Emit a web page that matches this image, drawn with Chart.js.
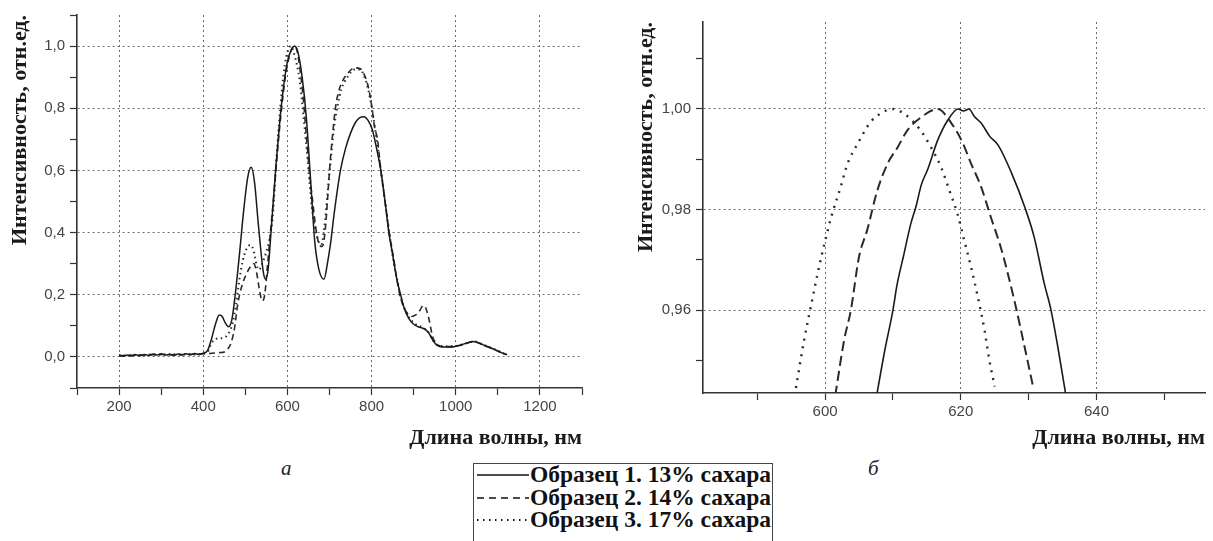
<!DOCTYPE html>
<html>
<head>
<meta charset="utf-8">
<script src="https://cdn.jsdelivr.net/npm/chart.js@4/dist/chart.umd.min.js"></script>
<style>
body{margin:0;background:#fff;width:1213px;height:541px;overflow:hidden;position:relative;font-family:'Liberation Serif',serif}
canvas{position:absolute;top:0}
#chartA{left:0}
#chartB{left:630px}
.sub{position:absolute;font-style:italic;font-size:21px;line-height:21px;color:#222}
#legend{position:absolute;left:473px;top:463px;width:298px;height:80px;border:1px solid #444;font-weight:bold;font-size:23.5px;line-height:22.7px;color:#111}
#legend .row{position:relative;height:22.7px;white-space:nowrap}
#legend .row:first-child{margin-top:-1px}
#legend svg{position:absolute;left:2px;top:0}
#legend span{margin-left:56px}
</style>
</head>
<body>
<canvas id="chartA" width="600" height="452"></canvas>
<canvas id="chartB" width="583" height="452"></canvas>
<div class="sub" style="left:281px;top:458px">а</div>
<div class="sub" style="left:868px;top:458px">б</div>
<div id="legend"></div>
<script>
// подписи
var seriesNames = ['Образец 1. 13% сахара', 'Образец 2. 14% сахара', 'Образец 3. 17% сахара'];
var xTitle = 'Длина волны, нм';
var yTitle = 'Интенсивность, отн.ед.';

// рисунок а: полный спектр
var wlA1 = [200,210,220,230,240,250,260,270,280,290,300,310,320,330,340,350,360,370,380,390,400,410,420,430,438,445,452,460,468,476,486,496,506,514,522,530,537,543,548,554,562,573,582,590,600,610,617,625,635,645,656,665,675,687,695,703,710,718,726,738,750,762,772,782,792,802,812,822,832,841,850,860,869,878,888,900,915,928,937,945,955,970,990,1010,1025,1040,1055,1070,1085,1100,1112,1122];
var intA1 = [0.005,0.002,0.006,0.003,0.007,0.004,0.008,0.005,0.009,0.006,0.010,0.006,0.008,0.005,0.009,0.006,0.010,0.007,0.011,0.008,0.012,0.020,0.060,0.110,0.135,0.130,0.110,0.097,0.120,0.200,0.330,0.470,0.580,0.610,0.560,0.440,0.340,0.270,0.250,0.280,0.420,0.620,0.760,0.860,0.950,0.990,1.000,0.980,0.900,0.770,0.550,0.370,0.280,0.250,0.300,0.370,0.450,0.530,0.600,0.670,0.720,0.755,0.770,0.773,0.760,0.730,0.670,0.600,0.500,0.400,0.330,0.250,0.200,0.155,0.125,0.105,0.095,0.088,0.075,0.055,0.038,0.032,0.032,0.038,0.044,0.050,0.045,0.036,0.028,0.019,0.012,0.007];

var wlA2 = [200,220,240,260,280,300,320,340,360,380,400,410,420,430,440,450,458,466,474,482,492,502,512,520,527,533,540,546,553,561,569,577,585,595,605,612,618,625,637,645,652,660,668,676,683,690,695,700,707,714,722,730,745,760,772,782,792,800,807,814,822,832,842,852,860,867,875,885,895,905,915,922,928,937,945,955,970,990,1010,1025,1040,1055,1070,1085,1100,1112,1120];
var intA2 = [0.004,0.005,0.006,0.006,0.007,0.008,0.007,0.008,0.008,0.009,0.010,0.010,0.012,0.013,0.014,0.016,0.025,0.045,0.090,0.170,0.230,0.265,0.290,0.300,0.270,0.220,0.180,0.200,0.300,0.420,0.540,0.670,0.785,0.900,0.970,0.995,1.000,0.970,0.840,0.710,0.600,0.500,0.410,0.360,0.355,0.410,0.500,0.600,0.710,0.800,0.855,0.885,0.915,0.930,0.928,0.910,0.870,0.810,0.740,0.700,0.600,0.500,0.400,0.320,0.250,0.200,0.165,0.140,0.130,0.135,0.150,0.165,0.160,0.118,0.065,0.042,0.033,0.033,0.037,0.043,0.049,0.045,0.036,0.028,0.019,0.012,0.008];

var wlA3 = [200,220,240,260,280,300,320,340,360,380,400,410,420,430,440,450,460,470,478,486,494,502,512,520,526,532,540,548,556,565,573,580,587,594,600,608,617,629,637,645,652,660,670,680,688,695,702,710,718,728,745,760,772,782,792,802,812,822,832,842,852,862,872,882,893,905,920,935,945,955,970,990,1010,1030,1045,1060,1075,1090,1105,1118];
var intA3 = [0.006,0.004,0.007,0.005,0.008,0.007,0.009,0.007,0.009,0.008,0.011,0.015,0.045,0.058,0.060,0.062,0.075,0.110,0.170,0.250,0.310,0.345,0.360,0.340,0.300,0.280,0.300,0.330,0.370,0.450,0.620,0.750,0.860,0.940,0.980,1.000,0.970,0.890,0.790,0.680,0.570,0.460,0.390,0.360,0.420,0.520,0.620,0.730,0.800,0.860,0.905,0.925,0.925,0.905,0.860,0.790,0.700,0.600,0.500,0.400,0.310,0.240,0.180,0.145,0.120,0.105,0.095,0.080,0.055,0.040,0.034,0.034,0.038,0.046,0.050,0.042,0.034,0.026,0.016,0.009];

// рисунок б: область максимума
var wlB1 = [607.6,608.8,610.0,610.6,611.6,612.6,613.4,614.2,615.1,616.6,618.1,619.6,620.4,621.2,622.0,623.0,624.3,625.5,627.5,629.4,630.8,632.3,633.3,634.3,635.5];
var intB1 = [0.943,0.952,0.960,0.965,0.971,0.977,0.9806,0.985,0.9879,0.9938,0.9978,1.000,0.9996,1.000,0.9985,0.9972,0.9945,0.9928,0.9872,0.9806,0.9746,0.9653,0.960,0.9527,0.943];
var wlB2 = [601.5,602.8,603.8,605.0,606.2,607.7,609.2,610.7,612.1,614.1,616.6,618.6,620.3,621.5,623.0,624.4,626.0,628.0,629.4,630.7];
var intB2 = [0.943,0.954,0.960,0.9706,0.9759,0.9838,0.9891,0.9924,0.9957,0.9983,1.000,0.9972,0.9932,0.9892,0.9845,0.9786,0.972,0.9613,0.9527,0.9445];
var wlB3 = [595.7,596.9,597.9,598.9,599.9,600.9,602.3,603.3,604.8,606.7,608.2,609.9,611.7,614.1,615.6,617.1,618.5,619.5,620.5,621.5,622.5,623.5,624.2,625.0];
var intB3 = [0.9445,0.954,0.9607,0.9673,0.9732,0.9785,0.9845,0.9891,0.9931,0.9974,0.9991,1.000,0.999,0.9957,0.9924,0.9884,0.9831,0.9792,0.9739,0.9686,0.9627,0.956,0.9501,0.9448];

// деления осей
var xTicksA = [100,200,300,400,500,600,700,800,900,1000,1100,1200,1300];
var yTicksA = [-0.1,0,0.1,0.2,0.3,0.4,0.5,0.6,0.7,0.8,0.9,1.0,1.1];
var xTicksB = [590,600,610,620,630,640,650];
var yTicksB = [0.95,0.96,0.97,0.98,0.99,1.00,1.01];

var dashes = [[], [6, 4], [1.5, 3.5]];
var dashesB = [[], [10, 5], [2, 6]];

function pts(xs, ys) {
    return xs.map(function(x, i) { return {x: x, y: ys[i]}; });
}

function makeSets(list, dash, width) {
    return list.map(function(s, i) {
        return {
            label: seriesNames[i],
            data: pts(s[0], s[1]),
            borderColor: i === 0 ? '#1a1a1a' : '#2a2a2a',
            borderWidth: width[i],
            borderDash: dash[i],
            pointRadius: 0,
            cubicInterpolationMode: 'monotone',
            fill: false
        };
    });
}

var tickFont = {family: 'Liberation Sans', size: 15};
var titleFont = {family: 'Liberation Serif', size: 22, weight: 'bold'};

function axis(min, max, tickList, isMajor, fmt, fixedSize, horizontal, titleText, titlePad) {
    return {
        type: 'linear',
        min: min,
        max: max,
        afterBuildTicks: function(scale) {
            scale.ticks = tickList.map(function(v) { return {value: v}; });
        },
        afterFit: function(scale) {
            if (horizontal) scale.height = fixedSize; else scale.width = fixedSize;
        },
        ticks: {
            autoSkip: false,
            maxRotation: 0,
            color: '#444',
            font: tickFont,
            padding: horizontal ? 3 : 5,
            callback: function(v) { return isMajor(v) ? fmt(v) : ''; }
        },
        grid: {
            color: function(ctx) {
                return ctx.tick && isMajor(ctx.tick.value) ? '#6a6a6a' : 'rgba(0,0,0,0)';
            },
            tickColor: '#333',
            tickLength: 7,
            tickWidth: 1.2,
            tickBorderDash: [],
            lineWidth: 1
        },
        border: {display: true, color: '#333', width: 1.6, dash: [2, 3]},
        title: {
            display: true,
            text: titleText,
            align: 'end',
            color: '#1a1a1a',
            font: titleFont,
            padding: titlePad
        }
    };
}

var commonOpts = {
    responsive: false,
    animation: false,
    devicePixelRatio: 1,
    plugins: {legend: {display: false}, tooltip: {enabled: false}}
};

new Chart(document.getElementById('chartA').getContext('2d'), {
    type: 'line',
    data: {
        datasets: makeSets([[wlA1, intA1], [wlA2, intA2], [wlA3, intA3]], dashes, [1.5, 1.6, 2])
    },
    options: Object.assign({}, commonOpts, {
        layout: {padding: {left: 0, right: 18, top: 15, bottom: 0}},
        scales: {
            x: axis(100, 1300, xTicksA,
                function(v) { return Math.round(v / 100) % 2 === 0; },
                function(v) { return String(v); },
                64, true, xTitle, {top: 0, bottom: 0}),
            y: axis(-0.1, 1.1, yTicksA,
                function(v) { return Math.round(v * 10) % 2 === 0; },
                function(v) { return v.toFixed(1).replace('.', ','); },
                77, false, yTitle, {top: 7, bottom: 0})
        }
    })
});

new Chart(document.getElementById('chartB').getContext('2d'), {
    type: 'line',
    data: {
        datasets: makeSets([[wlB1, intB1], [wlB2, intB2], [wlB3, intB3]], dashesB, [1.6, 2, 2.4])
    },
    options: Object.assign({}, commonOpts, {
        layout: {padding: {left: 0, right: 8, top: 22, bottom: 0}},
        scales: {
            x: axis(582, 656, xTicksB,
                function(v) { return Math.round(v) % 20 === 0; },
                function(v) { return String(Math.round(v)); },
                59, true, xTitle, {top: 0, bottom: 0}),
            y: axis(0.9435, 1.0173, yTicksB,
                function(v) { return Math.round(v * 100) % 2 === 0; },
                function(v) { return v.toFixed(2).replace('.', ','); },
                73, false, yTitle, {top: 3, bottom: 0})
        }
    })
});

// легенда
var legend = document.getElementById('legend');
var sampleDash = ['', '7 5', '1.5 4.5'];
seriesNames.forEach(function(name, i) {
    var row = document.createElement('div');
    row.className = 'row';
    var dash = sampleDash[i] ? ' stroke-dasharray="' + sampleDash[i] + '"' : '';
    row.innerHTML = '<svg width="54" height="23"><line x1="1" y1="12" x2="53" y2="12" stroke="#111" stroke-width="' + (i === 2 ? 2 : 1.6) + '"' + dash + '/></svg><span>' + name + '</span>';
    legend.appendChild(row);
});
</script>
</body>
</html>
